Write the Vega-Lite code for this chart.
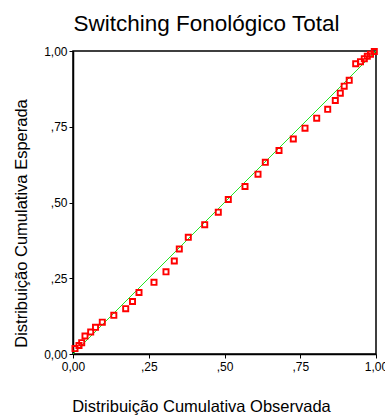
{
  "$schema": "https://vega.github.io/schema/vega-lite/v6.json",
  "width": 303,
  "height": 303,
  "autosize": {"type": "none"},
  "padding": {"left": 73, "top": 51, "right": 9, "bottom": 63},
  "background": "white",
  "title": {
    "text": "Switching Fonológico Total",
    "font": "Liberation Sans",
    "fontSize": 22.5,
    "fontWeight": "normal",
    "color": "black",
    "anchor": "middle",
    "baseline": "alphabetic",
    "offset": 19,
    "dx": -18,
    "dy": 27
  },
  "config": {
    "view": {"stroke": "black", "strokeWidth": 1.5},
    "axis": {
      "labelFont": "Liberation Sans",
      "labelFontSize": 12,
      "labelColor": "black",
      "titleFont": "Liberation Sans",
      "titleFontSize": 16.5,
      "titleFontWeight": "normal",
      "titleColor": "black",
      "domainColor": "black",
      "domainWidth": 1.5,
      "tickColor": "black",
      "tickSize": 4,
      "grid": false
    }
  },
  "layer": [
    {
      "data": {"values": [{"obs": 0, "exp": 0}, {"obs": 1, "exp": 1}]},
      "mark": {"type": "line", "color": "#22e622", "strokeWidth": 1},
      "encoding": {
        "x": {"field": "obs", "type": "quantitative"},
        "y": {"field": "exp", "type": "quantitative"}
      }
    },
    {
      "data": {
        "values": [
          {"obs": 0.0066, "exp": 0.018},
          {"obs": 0.0198, "exp": 0.028},
          {"obs": 0.0287, "exp": 0.0373},
          {"obs": 0.0396, "exp": 0.0594},
          {"obs": 0.0584, "exp": 0.0726},
          {"obs": 0.0743, "exp": 0.0881},
          {"obs": 0.0967, "exp": 0.105},
          {"obs": 0.1347, "exp": 0.1277},
          {"obs": 0.1739, "exp": 0.1495},
          {"obs": 0.1964, "exp": 0.1733},
          {"obs": 0.2178, "exp": 0.203},
          {"obs": 0.2673, "exp": 0.2366},
          {"obs": 0.3069, "exp": 0.2713},
          {"obs": 0.3343, "exp": 0.3069},
          {"obs": 0.3508, "exp": 0.3465},
          {"obs": 0.3805, "exp": 0.3851},
          {"obs": 0.4347, "exp": 0.4267},
          {"obs": 0.4795, "exp": 0.468},
          {"obs": 0.5125, "exp": 0.5099},
          {"obs": 0.5677, "exp": 0.5528},
          {"obs": 0.6106, "exp": 0.5934},
          {"obs": 0.6347, "exp": 0.6327},
          {"obs": 0.6799, "exp": 0.6716},
          {"obs": 0.7271, "exp": 0.7096},
          {"obs": 0.7657, "exp": 0.7452},
          {"obs": 0.8043, "exp": 0.7782},
          {"obs": 0.8406, "exp": 0.8076},
          {"obs": 0.8657, "exp": 0.8366},
          {"obs": 0.8822, "exp": 0.8607},
          {"obs": 0.895, "exp": 0.8838},
          {"obs": 0.9116, "exp": 0.9033},
          {"obs": 0.933, "exp": 0.958},
          {"obs": 0.9488, "exp": 0.9647},
          {"obs": 0.9614, "exp": 0.9746},
          {"obs": 0.9713, "exp": 0.9825},
          {"obs": 0.9818, "exp": 0.9894},
          {"obs": 0.9944, "exp": 0.9983}
        ]
      },
      "mark": {"type": "point", "shape": "square", "filled": false, "color": "#ff0000", "size": 26, "strokeWidth": 1.9, "opacity": 1, "clip": false},
      "encoding": {
        "x": {
          "field": "obs", "type": "quantitative",
          "scale": {"domain": [0, 1], "nice": false, "zero": false},
          "axis": {
            "values": [0, 0.25, 0.5, 0.75, 1],
            "labelExpr": "datum.value == 0 ? '0,00' : datum.value == 1 ? '1,00' : datum.value == 0.25 ? ',25' : datum.value == 0.5 ? ',50' : ',75'",
            "labelPadding": 3,
            "labelFlush": false,
            "title": "Distribuição Cumulativa Observada",
            "titleX": 128,
            "titleY": 57,
            "titleAlign": "center",
            "titleBaseline": "alphabetic"
          }
        },
        "y": {
          "field": "exp", "type": "quantitative",
          "scale": {"domain": [0, 1], "nice": false, "zero": false},
          "axis": {
            "values": [0, 0.25, 0.5, 0.75, 1],
            "labelExpr": "datum.value == 0 ? '0,00' : datum.value == 1 ? '1,00' : datum.value == 0.25 ? ',25' : datum.value == 0.5 ? ',50' : ',75'",
            "labelPadding": 2,
            "labelFlush": false,
            "title": "Distribuição Cumulativa Esperada",
            "titleAngle": -90,
            "titleX": -47,
            "titleY": 172,
            "titleAlign": "center",
            "titleBaseline": "alphabetic"
          }
        }
      }
    }
  ]
}
